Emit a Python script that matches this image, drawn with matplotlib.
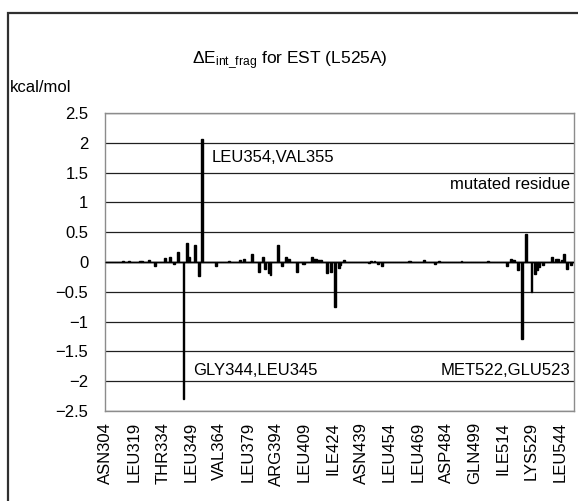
import matplotlib
matplotlib.use('Agg')
import matplotlib.pyplot as plt
from matplotlib.patches import Rectangle

plt.rcParams['font.family'] = ['Liberation Sans', 'DejaVu Sans']
plt.rcParams['mathtext.fontset'] = 'custom'
plt.rcParams['mathtext.rm'] = 'Liberation Sans'
plt.rcParams['mathtext.it'] = 'Liberation Sans:italic'
plt.rcParams['axes.unicode_minus'] = True

# ---- data -------------------------------------------------------------
first_residue = 304
# one value per residue 304..551 (kcal/mol), rows of 15 residues
values = [
    0, 0, 0, 0, 0, 0, 0, 0, 0, 0.02, 0, 0, 0.02, 0, 0,                 # 304-318
    0, 0, 0, 0.02, 0.02, 0, 0, 0, 0.04, 0, 0, -0.07, 0, 0, 0,          # 319-333
    0, 0.06, 0, 0, 0.08, 0, -0.03, 0, 0.17, 0, 0, -2.30, 0, 0.32, 0.08,  # 334-348
    0, 0, 0.28, 0, -0.23, 0, 2.07, 0, 0, 0, 0, 0, 0, -0.07, 0,         # 349-363
    0, 0, 0, 0, 0, 0.02, 0, 0, 0, 0, 0, 0.04, 0, 0.05, 0,              # 364-378
    0, 0, 0.13, 0, 0, 0, -0.16, 0, 0.08, -0.11, 0, -0.18, -0.22, 0, 0,  # 379-393
    0, 0.28, 0, -0.07, 0, 0.08, 0.05, 0.05, 0, 0, 0, -0.16, 0, 0, -0.03,  # 394-408
    -0.03, 0, 0, 0, 0.09, 0.05, 0.05, 0.04, 0.04, 0.04, 0, 0, -0.18, 0, -0.16,  # 409-423
    0, -0.76, 0, -0.10, -0.05, 0, 0.04, 0, 0, 0, 0, 0, 0, 0, 0,        # 424-438
    0, 0, 0, 0, -0.02, 0.01, 0, 0.02, 0, -0.03, 0, -0.07, 0, 0, 0,     # 439-453
    0, 0, 0, 0, 0, 0, 0, 0, 0, 0, 0.01, 0.01, 0, 0, 0,                 # 454-468
    0, 0, 0, 0.03, 0, 0, 0, 0, 0, -0.03, 0, 0.01, 0, 0, 0,             # 469-483
    0, 0, 0, 0, 0, 0, 0, 0, 0.02, 0, 0, 0, 0, 0, 0,                    # 484-498
    0, 0, 0, 0, 0, 0, 0, 0.02, 0, 0, 0, 0, 0, 0, 0,                    # 499-513
    0, 0, -0.07, 0, 0.05, 0.04, 0.04, 0, -0.13, 0, -1.30, 0, 0.47, 0, 0,  # 514-528
    -0.50, 0, -0.20, -0.13, -0.08, 0, -0.05, 0, 0, 0, 0, 0.08, 0, 0.05, 0.05,  # 529-543
    0, 0.04, 0.13, 0, -0.12, 0, -0.05, 0,                               # 544-551
]
residues = list(range(first_residue, first_residue + len(values)))

tick_residues = [304, 319, 334, 349, 364, 379, 394, 409, 424, 439,
                 454, 469, 484, 499, 514, 529, 544]
tick_labels = ['ASN304', 'LEU319', 'THR334', 'LEU349', 'VAL364', 'LEU379',
               'ARG394', 'LEU409', 'ILE424', 'ASN439', 'LEU454', 'LEU469',
               'ASP484', 'GLN499', 'ILE514', 'LYS529', 'LEU544']

y_ticks = [2.5, 2, 1.5, 1, 0.5, 0, -0.5, -1, -1.5, -2, -2.5]
y_tick_labels = ['2.5', '2', '1.5', '1', '0.5', '0',
                 '\u22120.5', '\u22121', '\u22121.5', '\u22122', '\u22122.5']

title = r'$\Delta$E$_{\mathrm{int\_frag}}$ for EST (L525A)'
unit_label = 'kcal/mol'

# ---- figure -----------------------------------------------------------
W, H = 578, 501
fig = plt.figure(figsize=(W / 100, H / 100), dpi=100)
fig.patch.set_facecolor('white')

# outer chart frame (right and bottom edges fall outside the picture)
fig.patches.append(Rectangle((8 / W, -0.05), 1.1, 1.05 - 13 / H,
                             transform=fig.transFigure, fill=False,
                             edgecolor='#303030', linewidth=1.6))

ax = fig.add_axes([105 / W, (H - 411) / H, (574 - 105) / W, (411 - 113) / H])

xpos = [r - first_residue for r in residues]
ax.bar(xpos, values, width=1.0, color='black', edgecolor='black',
       linewidth=1.0, zorder=3)
ax.axhline(0, color='black', linewidth=1.0, zorder=2)

ax.set_xlim(-0.5, len(values) - 0.5)
ax.set_ylim(-2.5, 2.5)
ax.set_yticks(y_ticks)
ax.set_yticklabels(y_tick_labels, fontsize=12)
ax.set_xticks([r - first_residue for r in tick_residues])
ax.set_xticklabels(tick_labels, rotation=90, fontsize=12)
ax.tick_params(axis='x', length=0, pad=8)
ax.tick_params(axis='y', length=0, pad=12)
ax.yaxis.grid(True, color='#202020', linewidth=0.9)
ax.set_axisbelow(True)
for s in ax.spines.values():
    s.set_color('#8c8c8c')
    s.set_linewidth(1.0)

# annotations
ax.text(56, 1.75, 'LEU354,VAL355', fontsize=12, ha='left', va='center')
ax.text(245.5, 1.3, 'mutated residue', fontsize=12, ha='right', va='center')
ax.text(46, -1.82, 'GLY344,LEU345', fontsize=12, ha='left', va='center')
ax.text(245.5, -1.82, 'MET522,GLU523', fontsize=12, ha='right', va='center')

fig.text(290 / W, 1 - 60 / H, title, fontsize=12.5, ha='center', va='center')
fig.text(10 / W, 1 - 88 / H, unit_label, fontsize=12, ha='left', va='center')

fig.savefig('out.png', dpi=100)
